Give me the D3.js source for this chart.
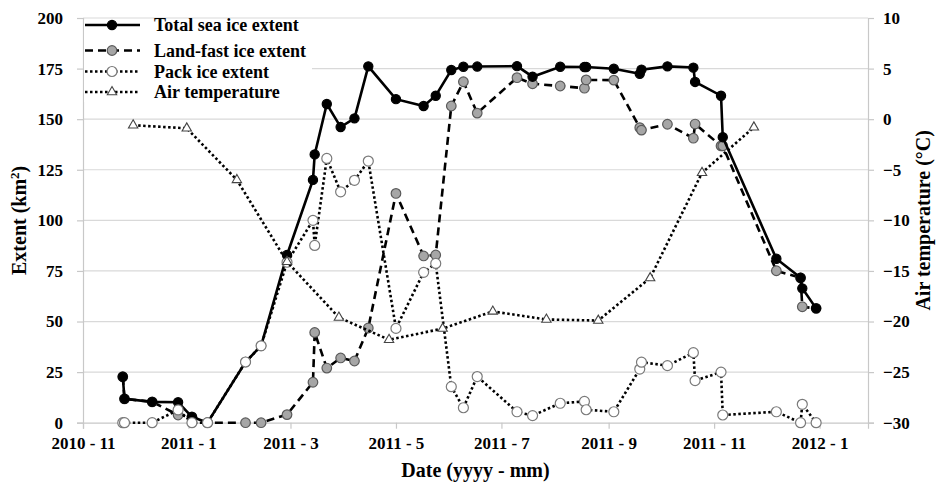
<!DOCTYPE html>
<html>
<head>
<meta charset="utf-8">
<script src="https://cdn.jsdelivr.net/npm/d3@7"></script>
<style>
  body { margin: 0; background: #fff; }
  svg { display: block; }
  text { font-family: "Liberation Serif", "Times New Roman", serif; font-weight: bold; fill: #000; }
</style>
</head>
<body>
<svg id="chart"></svg>
<script>
// sampling dates of the ice extent series
const iceDates = ["2010-11-24","2010-11-25","2010-12-11","2010-12-26","2011-01-03","2011-01-12",
  "2011-02-03","2011-02-12","2011-02-27","2011-03-14","2011-03-15","2011-03-22","2011-03-30",
  "2011-04-07","2011-04-15","2011-05-01","2011-05-17","2011-05-24","2011-06-02","2011-06-09",
  "2011-06-17","2011-07-10","2011-07-19","2011-08-04","2011-08-18","2011-08-19","2011-09-04",
  "2011-09-19","2011-09-20","2011-10-05","2011-10-20","2011-10-21","2011-11-05","2011-11-06",
  "2011-12-07","2011-12-21","2011-12-22","2011-12-30"];
const totalExtent = [22.7,11.8,10.3,10.1,2.9,0,
  30,38,82.9,120,132.6,157.5,146.1,
  150.4,176.1,159.9,156.5,161.6,174.3,175.9,
  176.0,176.2,171.0,175.9,175.8,175.8,174.9,
  172.4,174.5,176.1,175.5,168.4,161.6,141.1,
  81.0,71.6,66.4,56.5];
const landFastExtent = [22.7,11.8,10.3,3.8,2.9,0,
  0,0,4.0,20,44.6,27.0,32.0,
  30.5,46.8,113.3,82.4,82.9,156.5,168.5,
  153.0,170.5,167.5,166.4,165.3,169.4,169.3,
  145.8,144.6,147.5,140.6,147.6,136.8,136.8,
  75.1,71.6,57.3,56.5];
const packExtent = [0,0,0,6.3,0,0,
  30,38,79.3,100,87.6,130.6,114.1,
  119.8,129.3,46.6,74.3,78.7,17.8,7.4,
  22.8,5.4,3.5,9.6,10.5,6.4,5.4,
  26.5,29.9,28.2,34.6,20.8,25.0,3.8,
  5.4,0,9.1,0];

// monthly air temperature
const tempDates = ["2010-11-30","2010-12-31","2011-01-29","2011-02-27","2011-03-29","2011-04-27",
  "2011-05-28","2011-06-26","2011-07-27","2011-08-26","2011-09-25","2011-10-25","2011-11-24"];
const airTemp = [-0.6,-0.9,-6.0,-14.1,-19.6,-21.8,-20.7,-19.0,-19.8,-19.9,-15.7,-5.3,-0.8];

const xTickDates = ["2010-11-01","2011-01-01","2011-03-01","2011-05-01","2011-07-01","2011-09-01","2011-11-01","2012-01-01"];
const xTickLabels = ["2010 - 11","2011 - 1","2011 - 3","2011 - 5","2011 - 7","2011 - 9","2011 - 11","2012 - 1"];
const extentTicks = [0,25,50,75,100,125,150,175,200];
const tempTicks = [-30,-25,-20,-15,-10,-5,0,5,10];

const W = 940, H = 485;
const margin = {top: 18, right: 72, bottom: 62.3, left: 83};
const parse = d3.timeParse("%Y-%m-%d");

const svg = d3.select("#chart").attr("width", W).attr("height", H);

const x = d3.scaleTime()
  .domain([parse("2010-11-01"), parse("2012-01-29")])
  .range([margin.left, W - margin.right]);
const yL = d3.scaleLinear().domain([0, 200]).range([H - margin.bottom, margin.top]);
const yR = d3.scaleLinear().domain([-30, 10]).range([H - margin.bottom, margin.top]);

const gridCol = "#d9d9d9";

// gridlines
svg.append("g").selectAll("line").data(extentTicks.slice(1)).join("line")
  .attr("x1", margin.left).attr("x2", W - margin.right)
  .attr("y1", d => yL(d)).attr("y2", d => yL(d))
  .attr("stroke", gridCol).attr("stroke-width", 1.2);

// axes
const xAxis = svg.append("g")
  .attr("transform", `translate(0,${yL(0)})`)
  .call(d3.axisBottom(x).tickValues(xTickDates.map(parse))
    .tickFormat((d, i) => xTickLabels[i]).tickSize(6).tickPadding(8));

const leftAxis = svg.append("g")
  .attr("transform", `translate(${margin.left},0)`)
  .call(d3.axisLeft(yL).tickValues(extentTicks).tickSize(6).tickPadding(14));

const rightAxis = svg.append("g")
  .attr("transform", `translate(${W - margin.right},0)`)
  .call(d3.axisRight(yR).tickValues(tempTicks).tickSize(6).tickPadding(9));

[xAxis, leftAxis, rightAxis].forEach(g => {
  g.select(".domain").attr("stroke", "#c8c8c8").attr("stroke-width", 1.2);
  g.selectAll(".tick line").attr("stroke", "#c8c8c8").attr("stroke-width", 1.2);
  g.selectAll(".tick text").style("font-size", "17px").attr("fill", "#000")
    .style("font-family", "'Liberation Serif', 'Times New Roman', serif").style("font-weight", "bold");
});

// axis titles
svg.append("text")
  .attr("x", (margin.left + W - margin.right) / 2).attr("y", 477)
  .attr("text-anchor", "middle").style("font-size", "20px")
  .text("Date (yyyy - mm)");

const lt = svg.append("text")
  .attr("transform", `translate(26,${(yL(0) + yL(200)) / 2}) rotate(-90)`)
  .attr("text-anchor", "middle").style("font-size", "20px");
lt.append("tspan").text("Extent (km");
lt.append("tspan").attr("dy", -7).style("font-size", "13px").text("2");
lt.append("tspan").attr("dy", 7).text(")");

svg.append("text")
  .attr("transform", `translate(930,${(yL(0) + yL(200)) / 2}) rotate(-90)`)
  .attr("text-anchor", "middle").style("font-size", "20px")
  .text("Air temperature (°C)");

// series
const ice = iceDates.map((d, i) => ({
  date: parse(d), total: totalExtent[i], land: landFastExtent[i], pack: packExtent[i]
}));
const temps = tempDates.map((d, i) => ({date: parse(d), t: airTemp[i]}));

const series = [
  {key: "land", label: "Land-fast ice extent", dash: "8,5", data: ice, y: d => yL(d.land),
   marker: "circle", r: 4.8, fill: "#a6a6a6", stroke: "#5a5a5a"},
  {key: "total", label: "Total sea ice extent", dash: null, data: ice, y: d => yL(d.total),
   marker: "circle", r: 4.6, fill: "#000", stroke: "#000"},
  {key: "pack", label: "Pack ice extent", dash: "2.5,2.5", data: ice, y: d => yL(d.pack),
   marker: "circle", r: 5, fill: "#fff", stroke: "#7a7a7a"},
  {key: "temp", label: "Air temperature", dash: "2.5,2.5", data: temps, y: d => yR(d.t),
   marker: "triangle", r: 4.6, fill: "#fff", stroke: "#444"}
];

const tri = d3.symbol().type(d3.symbolTriangle).size(38);

function drawMarker(g, s, cx, cy) {
  if (s.marker === "circle") {
    g.append("circle").attr("cx", cx).attr("cy", cy).attr("r", s.r)
      .attr("fill", s.fill).attr("stroke", s.stroke).attr("stroke-width", 1.2);
  } else {
    g.append("path").attr("d", tri).attr("transform", `translate(${cx},${cy})`)
      .attr("fill", s.fill).attr("stroke", s.stroke).attr("stroke-width", 1.1);
  }
}

series.forEach(s => {
  const g = svg.append("g");
  const line = d3.line().x(d => x(d.date)).y(s.y);
  g.append("path").datum(s.data).attr("d", line)
    .attr("fill", "none").attr("stroke", "#000").attr("stroke-width", 2.6)
    .attr("stroke-dasharray", s.dash);
  s.data.forEach(d => drawMarker(g, s, x(d.date), s.y(d)));
});

// legend
const legendOrder = ["total", "land", "pack", "temp"];
const legendY = [25, 50.5, 71.5, 92];
const lg = svg.append("g");
lg.append("rect").attr("x", margin.left + 1).attr("y", 20).attr("width", 228).attr("height", 82)
  .attr("fill", "#fff");
legendOrder.forEach((k, i) => {
  const s = series.find(v => v.key === k);
  const yy = legendY[i];
  lg.append("line").attr("x1", 85).attr("x2", 140).attr("y1", yy).attr("y2", yy)
    .attr("stroke", "#000").attr("stroke-width", 2.6).attr("stroke-dasharray", s.dash);
  drawMarker(lg, s, 112, yy);
  lg.append("text").attr("x", 154).attr("y", yy + 6).style("font-size", "18px").text(s.label);
});
</script>
</body>
</html>
